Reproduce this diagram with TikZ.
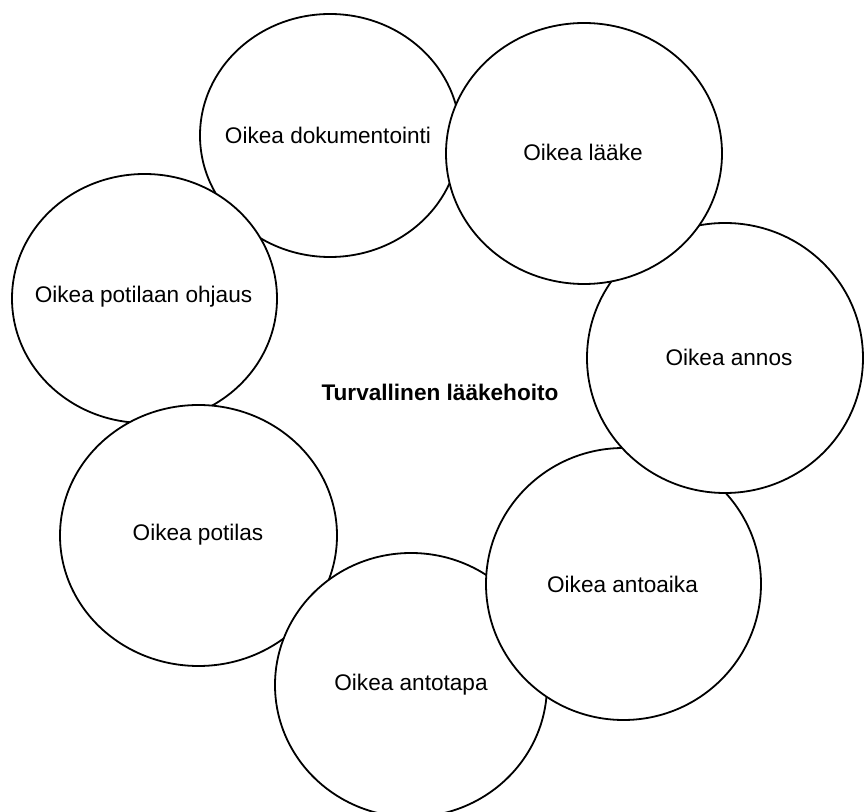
\documentclass[tikz,border=0pt]{standalone}
\usepackage{fontspec}
\setmainfont{Liberation Sans}
\tikzset{bubble/.style={draw=black,fill=white,line width=0.9pt},
  lbl/.style={inner sep=0pt,font=\fontsize{11.3}{13}\selectfont}}
\begin{document}
\begin{tikzpicture}[x=0.5pt,y=-0.5pt]
   \useasboundingbox (0,0) rectangle (864,812);
   % ring of bubbles, drawn in stacking order
   \filldraw [bubble] (330,135.5) ellipse [x radius=130, y radius=121.5];
   \filldraw [bubble] (144.5,298.5) ellipse [x radius=132.5, y radius=124.5];
   \filldraw [bubble] (198.5,535.5) ellipse [x radius=138.5, y radius=130.5];
   \filldraw [bubble] (411,685) ellipse [x radius=136, y radius=132];
   \filldraw [bubble] (623.5,584) ellipse [x radius=137.5, y radius=136];
   \filldraw [bubble] (725,358) ellipse [x radius=138, y radius=135];
   \filldraw [bubble] (584,153.5) ellipse [x radius=138, y radius=130.5];
   \node [lbl] (dok) at (328,135) {Oikea dokumentointi};
   \node [lbl] (laake) at (583,152) {Oikea lääke};
   \node [lbl] (annos) at (729,357) {Oikea annos};
   \node [lbl] (antoaika) at (622.5,584) {Oikea antoaika};
   \node [lbl] (antotapa) at (411,685) {Oikea antotapa};
   \node [lbl] (potilas) at (198,535) {Oikea potilas};
   \node [lbl] (ohjaus) at (143.5,297) {Oikea potilaan ohjaus};
   \node [lbl,font=\fontsize{11.3}{13}\selectfont\bfseries] (hoito) at (440,392) {Turvallinen lääkehoito};
  \end{tikzpicture}
\end{document}
